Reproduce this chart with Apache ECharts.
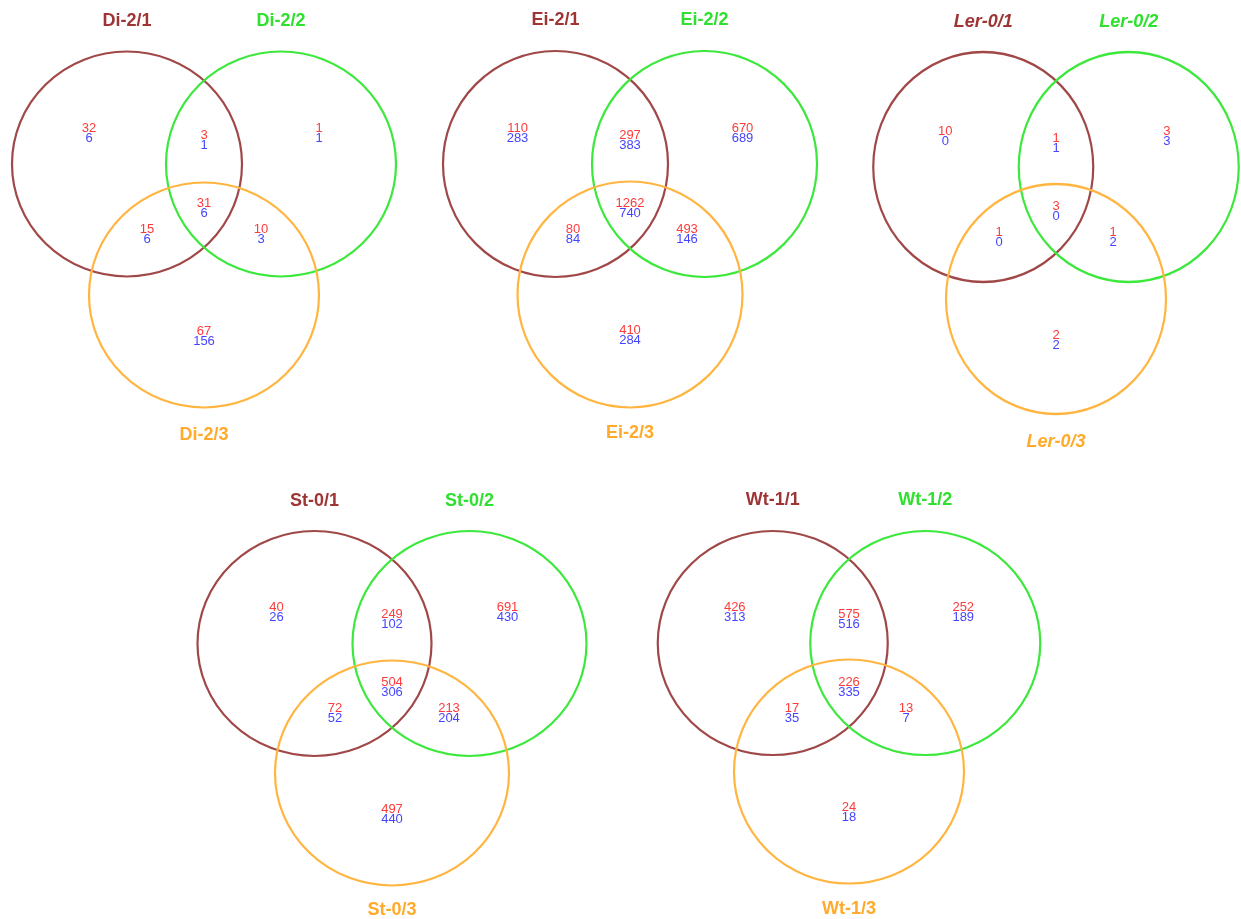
<!DOCTYPE html>
<html>
<head>
<meta charset="utf-8">
<script src="https://cdn.jsdelivr.net/npm/echarts@6/dist/echarts.min.js"></script>
<style>html,body{margin:0;padding:0;background:#fff}#c{width:1241px;height:919px}</style>
</head>
<body>
<div id="c"></div>
<script>
// ---- data ----
const vennNames = ['Di-2', 'Ei-2', 'Ler-0', 'St-0', 'Wt-1'];
const setSuffixes = ['/1', '/2', '/3'];
// region order: only1, 1∩2, only2, 1∩2∩3, 1∩3, 2∩3, only3
const redDi  = [32, 3, 1, 31, 15, 10, 67];
const blueDi = [6, 1, 1, 6, 6, 3, 156];
const redEi  = [110, 297, 670, 1262, 80, 493, 410];
const blueEi = [283, 383, 689, 740, 84, 146, 284];
const redLer  = [10, 1, 3, 3, 1, 1, 2];
const blueLer = [0, 1, 3, 0, 0, 2, 2];
const redSt  = [40, 249, 691, 504, 72, 213, 497];
const blueSt = [26, 102, 430, 306, 52, 204, 440];
const redWt  = [426, 575, 252, 226, 17, 13, 24];
const blueWt = [313, 516, 189, 335, 35, 7, 18];

const redSets = [redDi, redEi, redLer, redSt, redWt];
const blueSets = [blueDi, blueEi, blueLer, blueSt, blueWt];

// ---- layout (positions / sizes, not data) ----
const layout = [
  {ax: 204,  ay: 164,   half: 77,    dy: 131,   rx: 115,   ry: 112.5, tTop: -143,   tBot: 140,   italic: false},
  {ax: 630,  ay: 164,   half: 74.5,  dy: 130.5, rx: 112.5, ry: 113,   tTop: -144,   tBot: 138.5, italic: false},
  {ax: 1056, ay: 167,   half: 72.75, dy: 132,   rx: 110,   ry: 115,   tTop: -145,   tBot: 143,   italic: true},
  {ax: 392,  ay: 643.5, half: 77.5,  dy: 129.5, rx: 117,   ry: 112.5, tTop: -142.5, tBot: 137,   italic: false},
  {ax: 849,  ay: 643,   half: 76.25, dy: 128.5, rx: 115,   ry: 112,   tTop: -143,   tBot: 137.5, italic: false}
];
const circleColors = ['#a04848', '#3ce83c', '#ffb540'];
const titleColors = ['#9e3434', '#2fe02f', '#ffaa2a'];
const redColor = '#ff3a3a';
const blueColor = '#4545ff';

function regionOffsets(L) {
  return [
    [-L.half - 38, -36],
    [0, -29],
    [L.half + 38, -36],
    [0, 39],
    [-57, 65],
    [57, 65],
    [0, L.dy + 36]
  ];
}

const circleData = [];
const titleData = [];
const numData = [];
layout.forEach((L, i) => {
  const centers = [[L.ax - L.half, L.ay], [L.ax + L.half, L.ay], [L.ax, L.ay + L.dy]];
  centers.forEach((c, k) => circleData.push([c[0], c[1], L.rx, L.ry, k]));
  titleData.push([L.ax - L.half, L.ay + L.tTop, i, 0]);
  titleData.push([L.ax + L.half, L.ay + L.tTop, i, 1]);
  titleData.push([L.ax, L.ay + L.dy + L.tBot, i, 2]);
  regionOffsets(L).forEach((o, r) => {
    numData.push([L.ax + o[0], L.ay + o[1], redSets[i][r], 0]);
  });
  regionOffsets(L).forEach((o, r) => {
    numData.push([L.ax + o[0], L.ay + o[1] + 10, blueSets[i][r], 1]);
  });
});

const chart = echarts.init(document.getElementById('c'), null, {renderer: 'canvas'});
chart.setOption({
  backgroundColor: '#ffffff',
  animation: false,
  grid: {left: 0, right: 0, top: 0, bottom: 0},
  xAxis: {type: 'value', min: 0, max: 1241, show: false},
  yAxis: {type: 'value', min: 0, max: 919, inverse: true, show: false},
  series: [
    {
      type: 'custom',
      data: circleData,
      renderItem: function (params, api) {
        const p = api.coord([api.value(0), api.value(1)]);
        const s = api.size([api.value(2), api.value(3)]);
        return {
          type: 'circle',
          x: p[0], y: p[1],
          scaleX: 1, scaleY: s[1] / s[0],
          shape: {cx: 0, cy: 0, r: s[0]},
          style: {fill: 'none', stroke: circleColors[api.value(4)], lineWidth: 2.2, strokeNoScale: true}
        };
      }
    },
    {
      type: 'custom',
      data: titleData,
      renderItem: function (params, api) {
        const p = api.coord([api.value(0), api.value(1)]);
        const vi = api.value(2), k = api.value(3);
        const it = layout[vi].italic ? 'italic ' : '';
        return {
          type: 'text',
          x: p[0], y: p[1],
          style: {
            text: vennNames[vi] + setSuffixes[k],
            fill: titleColors[k],
            font: it + 'bold 18px "Liberation Sans", Arial, sans-serif',
            align: 'center', verticalAlign: 'middle'
          }
        };
      }
    },
    {
      type: 'custom',
      data: numData,
      renderItem: function (params, api) {
        const p = api.coord([api.value(0), api.value(1)]);
        return {
          type: 'text',
          x: p[0], y: p[1],
          style: {
            text: String(api.value(2)),
            fill: api.value(3) === 0 ? redColor : blueColor,
            font: '13px "Liberation Sans", Arial, sans-serif',
            align: 'center', verticalAlign: 'middle'
          }
        };
      }
    }
  ]
});
</script>
</body>
</html>
